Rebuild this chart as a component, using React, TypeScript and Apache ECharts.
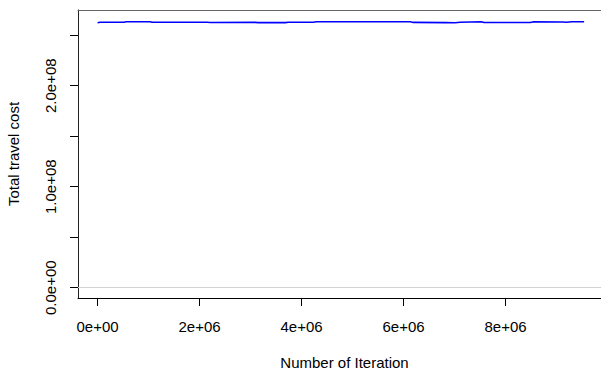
import React, { useEffect, useRef } from "react";
import * as echarts from "echarts";

const iterations = [0, 0.05e6, 0.52e6, 0.56e6, 1.03e6, 1.07e6, 2.15e6, 2.21e6, 3.09e6, 3.15e6, 3.68e6, 3.74e6, 4.23e6, 4.29e6, 6.13e6, 6.19e6, 6.82e6, 7.01e6, 7.11e6, 7.52e6, 7.58e6, 8.48e6, 8.54e6, 9.13e6, 9.19e6, 9.3e6, 9.54e6];
const costs = [2.623e8, 2.628e8, 2.628e8, 2.633e8, 2.633e8, 2.628e8, 2.628e8, 2.626e8, 2.627e8, 2.625e8, 2.625e8, 2.628e8, 2.629e8, 2.633e8, 2.633e8, 2.627e8, 2.625e8, 2.624e8, 2.628e8, 2.633e8, 2.626e8, 2.626e8, 2.632e8, 2.631e8, 2.628e8, 2.633e8, 2.633e8];
const xTicks = [0, 2e6, 4e6, 6e6, 8e6];
const xTickLabels = ["0e+00", "2e+06", "4e+06", "6e+06", "8e+06"];
const yTicks = [0, 5e7, 1e8, 1.5e8, 2e8, 2.5e8];
const yLabelValues = [0, 1e8, 2e8];
const yTickLabels = ["0.0e+00", "1.0e+08", "2.0e+08"];

const FONT = "'Liberation Sans', Arial, Helvetica, sans-serif";
const X_MIN = -384000;
const X_MAX = 10067000;

export default function App() {
  const ref = useRef<HTMLDivElement>(null);
  useEffect(() => {
    if (!ref.current) return;
    const chart = echarts.init(ref.current, undefined, { renderer: "svg" });
    chart.setOption({
      animation: false,
      backgroundColor: "#ffffff",
      grid: {
        left: 78, top: 10, right: -10, bottom: 73,
        show: false,
        containLabel: false, outerBoundsMode: "none",
      },
      xAxis: [
        {
          type: "value",
          min: X_MIN,
          max: X_MAX,
          name: "Number of Iteration",
          nameLocation: "middle",
          nameGap: 57,
          nameTextStyle: { fontFamily: FONT, fontSize: 15, color: "#000" },
          axisLine: { show: true, onZero: false, lineStyle: { color: "#000", width: 1 } },
          axisTick: { show: true, inside: false, length: 8, customValues: xTicks, lineStyle: { color: "#000" } },
          axisLabel: {
            customValues: xTicks,
            margin: 21,
            fontFamily: FONT,
            fontSize: 15,
            color: "#000",
            formatter: (v: number) => xTickLabels[xTicks.indexOf(v)] ?? "",
          },
          splitLine: { show: false },
        },
        {
          type: "value",
          position: "top",
          min: X_MIN,
          max: X_MAX,
          axisLine: { show: true, onZero: false, lineStyle: { color: "#666", width: 1 } },
          axisTick: { show: false },
          axisLabel: { show: false },
          splitLine: { show: false },
        },
      ],
      yAxis: {
        type: "value",
        min: -1.02e7,
        max: 2.75e8,
        name: "Total travel cost",
        nameLocation: "middle",
        nameGap: 57,
        nameTextStyle: { fontFamily: FONT, fontSize: 15, color: "#000" },
        axisLine: { show: true, onZero: false, lineStyle: { color: "#222", width: 1 } },
        axisTick: { show: true, inside: false, length: 8, customValues: yTicks, lineStyle: { color: "#000" } },
        axisLabel: {
          customValues: yLabelValues,
          rotate: 90,
          margin: 20,
          fontFamily: FONT,
          fontSize: 15,
          color: "#000",
          formatter: (v: number) => yTickLabels[yLabelValues.indexOf(v)] ?? "",
        },
        splitLine: { show: false },
      },
      series: [
        {
          type: "line",
          xAxisIndex: 0,
          data: iterations.map((x, i) => [x, costs[i]]),
          showSymbol: false,
          lineStyle: { color: "#0000ff", width: 1.6 },
          markLine: {
            silent: true,
            symbol: "none",
            label: { show: false },
            lineStyle: { color: "#d3d3d3", type: "solid", width: 1 },
            data: [{ yAxis: 0 }],
          },
        },
      ],
    });
    return () => chart.dispose();
  }, []);
  return <div ref={ref} style={{ position: "fixed", left: 0, top: 0, width: 601, height: 371 }} />;
}
